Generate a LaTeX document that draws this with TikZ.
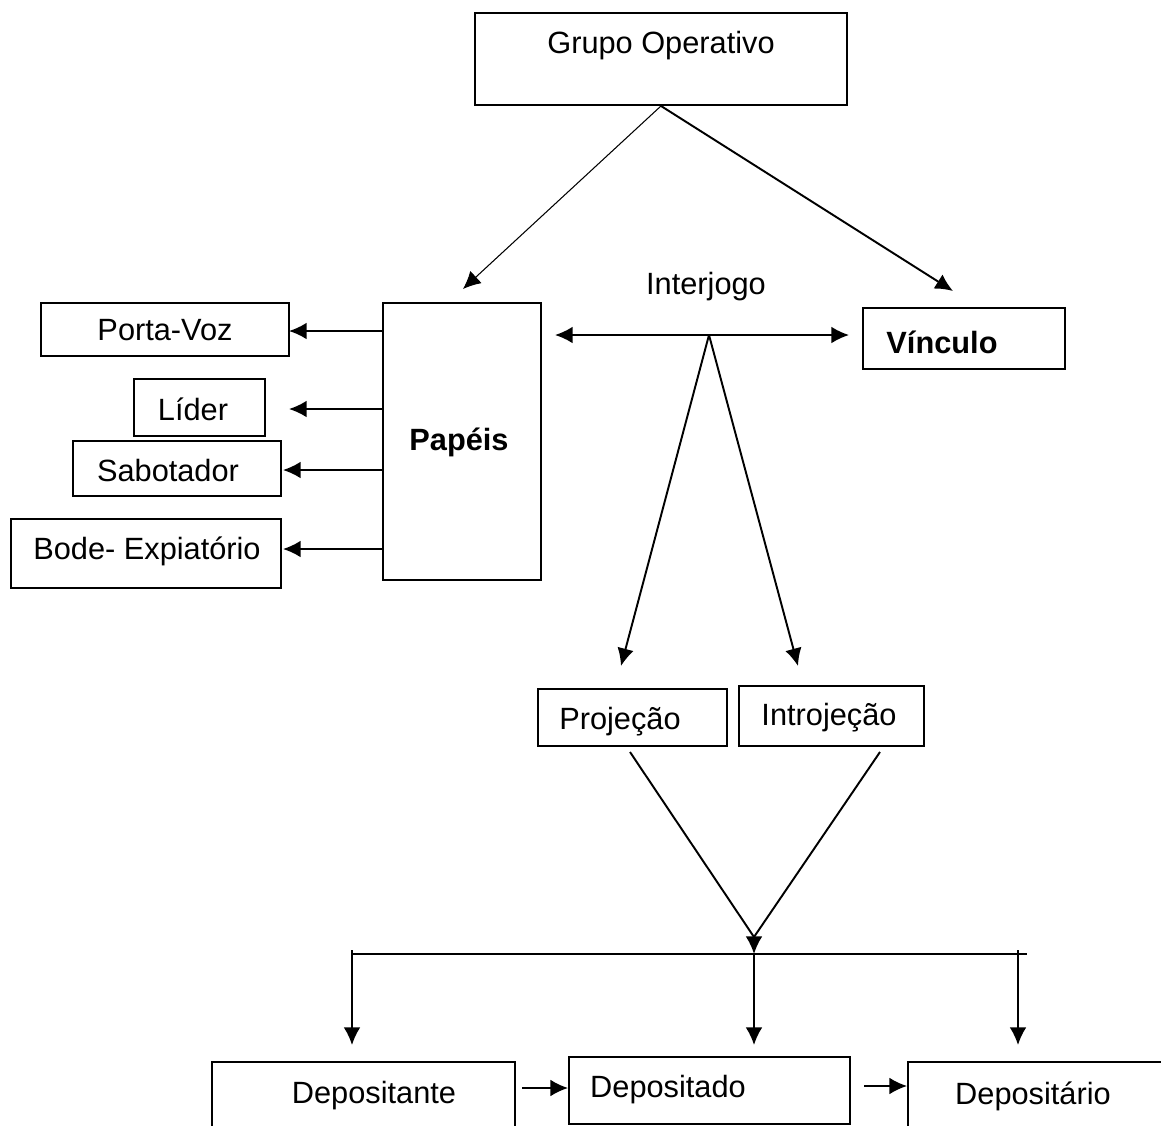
\documentclass[tikz,border=0pt]{standalone}
\usepackage{fontspec}
\setmainfont{Liberation Sans}
\usetikzlibrary{positioning}
\usetikzlibrary{arrows.meta}
\usetikzlibrary{fit}

\begin{document}
\begin{tikzpicture}[
  x=0.02cm, y=-0.02cm,
  font=\fontsize{17.5}{21}\selectfont,
  caixa/.style={draw, line width=1.1pt, inner sep=0pt},
  rotulo/.style={inner sep=0pt},
  seta/.style={-{Latex[length=10pt, width=9.5pt]}, line width=1.1pt},
  setaDupla/.style={{Latex[length=10pt, width=9.5pt]}-{Latex[length=10pt, width=9.5pt]}, line width=1.1pt},
  linha/.style={line width=1.1pt}
]
\useasboundingbox (0,0) rectangle (1161,1126);
\clip (0,0) rectangle (1161,1126);

% Top: grupo operativo
\node[caixa, fit={(475,13) (847,105)}] (grupo) {};
\node[rotulo] (grupoTxt) at (661,46) {Grupo Operativo};

% Papeis and the roles on the left
\node[caixa, fit={(383,303) (541,580)}] (papeis) {};
\node[rotulo, font=\fontsize{17.5}{21}\selectfont\bfseries] (papeisTxt) at (459,442) {Papéis};

\node[caixa, fit={(41,303) (289,356)}] (portavoz) {};
\node[rotulo] (portavozTxt) at (165,330) {Porta-Voz};
\node[caixa, fit={(134,379) (265,436)}] (lider) {};
\node[rotulo] (liderTxt) at (193,409) {Líder};
\node[caixa, fit={(73,441) (281,496)}] (sabotador) {};
\node[rotulo] (sabotadorTxt) at (168,471) {Sabotador};
\node[caixa, fit={(11,519) (281,588)}] (bode) {};
\node[rotulo] (bodeTxt) at (147,551) {Bode- Expiatório};

% Vinculo and interjogo
\node[caixa, fit={(863,308) (1065,369)}] (vinculo) {};
\node[rotulo, font=\fontsize{17.5}{21}\selectfont\bfseries] (vinculoTxt) at (942,342) {Vínculo};
\node[rotulo] (interjogoTxt) at (706,287) {Interjogo};

% Projecao / Introjecao
\node[caixa, fit={(538,689) (727,746)}] (projecao) {};
\node[rotulo] (projecaoTxt) at (620,722) {Projeção};
\node[caixa, fit={(739,686) (924,746)}] (introjecao) {};
\node[rotulo] (introjecaoTxt) at (829,718) {Introjeção};

% Bottom row
\node[caixa, fit={(212,1062) (515,1160)}] (depositante) {};
\node[rotulo] (depositanteTxt) at (374,1096) {Depositante};
\node[caixa, fit={(569,1057) (850,1124)}] (depositado) {};
\node[rotulo] (depositadoTxt) at (668,1090) {Depositado};
\node[caixa, fit={(908,1062) (1200,1160)}] (depositario) {};
\node[rotulo] (depositarioTxt) at (1033,1096) {Depositário};

% Free ends
\coordinate (papeisPonta) at (463,289);
\coordinate (vinculoPonta) at (953,291);
\coordinate (pvPonta) at (289,331);
\coordinate (liderPonta) at (289,409);
\coordinate (sabPonta) at (283,470);
\coordinate (bodePonta) at (283,549);
\coordinate (ijEsq) at (555,335);
\coordinate (ijDir) at (849,335);
\coordinate (ij) at (709,335);
\coordinate (projPonta) at (621,666);
\coordinate (introPonta) at (798,666);
\coordinate (projSai) at (630,752);
\coordinate (introSai) at (880,752);
\coordinate (vertice) at (754,937);
\coordinate (barraMeio) at (754,954);
\coordinate (barraEsq) at (352,954);
\coordinate (barraDir) at (1027,954);
\coordinate (descEsq) at (352,1045);
\coordinate (descMeio) at (754,1045);
\coordinate (descDir) at (1018,1045);

% Grupo operativo to papeis and vinculo
\draw[seta, line width=0.6pt] (grupo.south) -- (papeisPonta);
\draw[seta] (grupo.south) -- (vinculoPonta);

% Papeis to roles
\draw[seta] (papeis.west |- pvPonta) -- (pvPonta);
\draw[seta] (papeis.west |- liderPonta) -- (liderPonta);
\draw[seta] (papeis.west |- sabPonta) -- (sabPonta);
\draw[seta] (papeis.west |- bodePonta) -- (bodePonta);

% Interjogo
\draw[setaDupla] (ijEsq) -- (ijDir);
\draw[seta] (ij) -- (projPonta);
\draw[seta] (ij) -- (introPonta);

% Converging lines
\draw[linha] (projSai) -- (vertice) -- (introSai);
\draw[seta] (vertice) -- (barraMeio);

% Distribution bar
\draw[linha] (barraEsq) -- (barraDir);
\draw[linha] (352,950) -- (barraEsq);
\draw[seta] (barraEsq) -- (descEsq);
\draw[seta] (barraMeio) -- (descMeio);
\draw[linha] (1018,950) -- (1018,954);
\draw[seta] (1018,954) -- (descDir);

% Bottom chain
\draw[seta] (522,1088) -- (depositado.west |- 0,1088);
\draw[seta] (864,1086) -- (depositario.west |- 0,1086);

\end{tikzpicture}
\end{document}
